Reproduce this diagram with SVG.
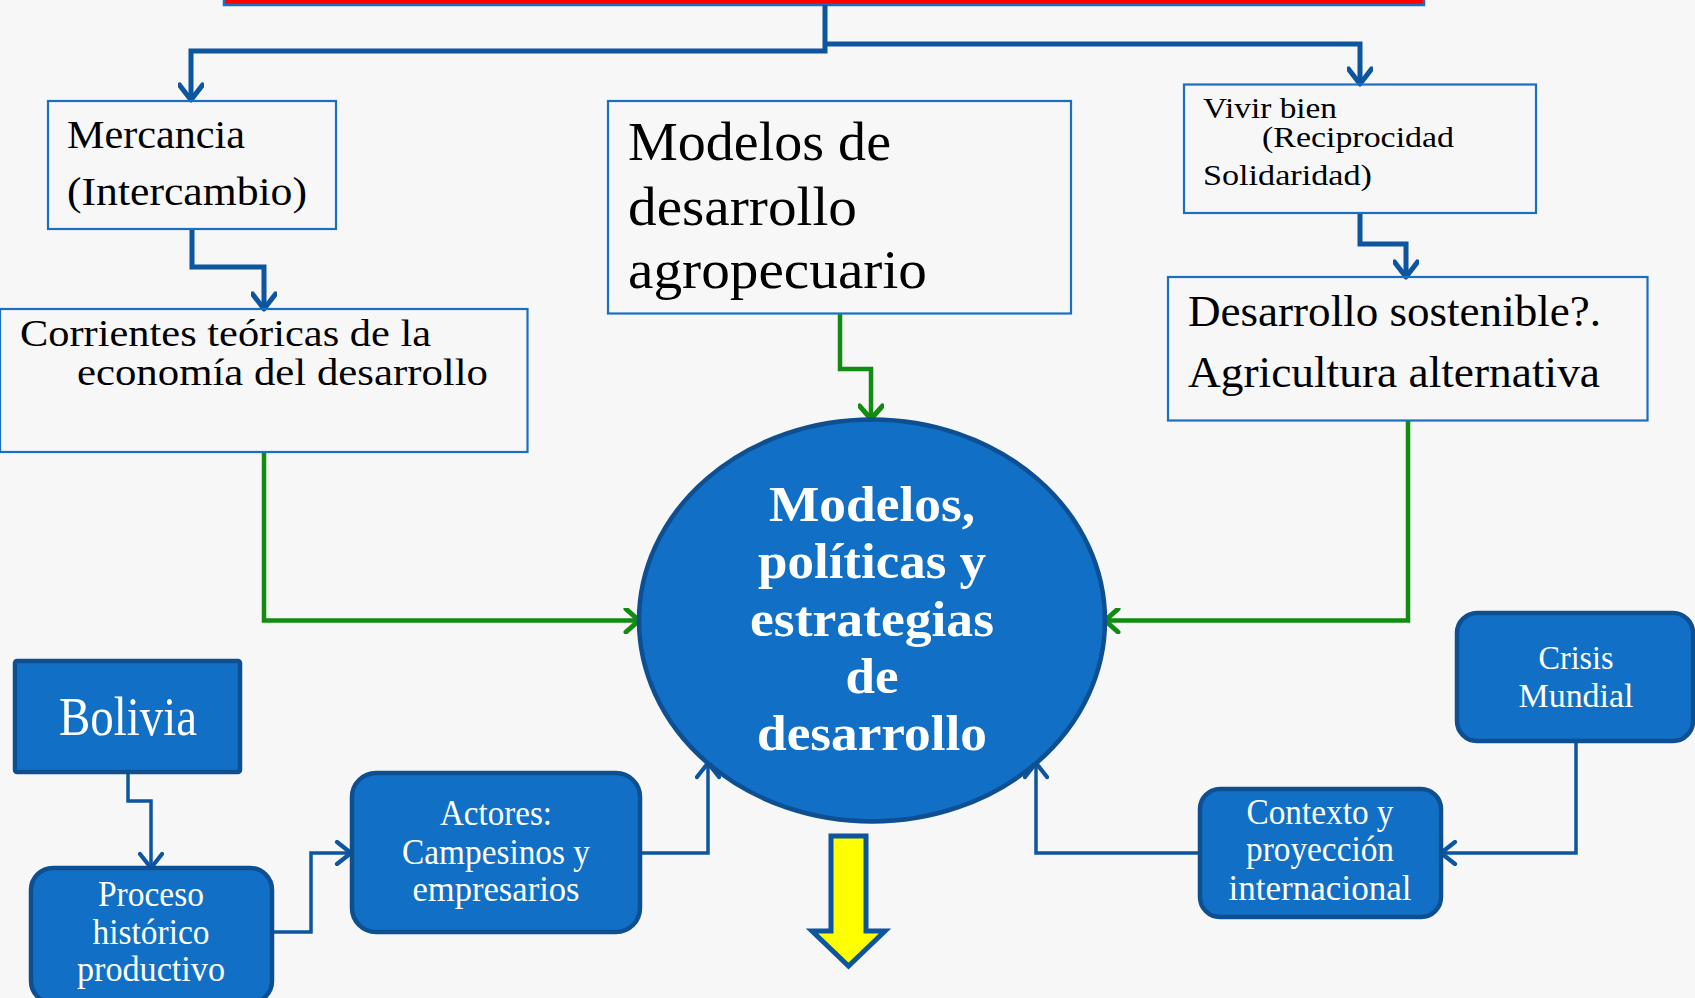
<svg xmlns="http://www.w3.org/2000/svg" width="1695" height="998" viewBox="0 0 1695 998">
<defs>
<style>
.bg{fill:#F7F7F7}
.wbox{fill:none;stroke:#1A6FC4;stroke-width:2.2}
.bbox{fill:#1170C6;stroke:#0D4F91;stroke-width:4.5}
.blk{font-family:"Liberation Serif",serif;fill:#000}
.wht{font-family:"Liberation Serif",serif;fill:#fff;text-anchor:middle}
.bold{font-weight:bold}
.cb{fill:none;stroke:#0D559E;stroke-width:5;stroke-linejoin:miter}
.cbt{fill:none;stroke:#0D559E;stroke-width:3.5;stroke-linejoin:miter}
.cg{fill:none;stroke:#118C11;stroke-width:4.5;stroke-linejoin:miter}
</style>
<marker id="mb" viewBox="0 0 26 26" markerWidth="26" markerHeight="26" refX="23" refY="13" orient="auto" markerUnits="userSpaceOnUse">
<path d="M8,1.5 L23,13 L8,24.5" fill="none" stroke="#0D559E" stroke-width="5" stroke-linecap="round" stroke-linejoin="round"/>
</marker>
<marker id="mbt" viewBox="0 0 26 26" markerWidth="26" markerHeight="26" refX="23" refY="13" orient="auto" markerUnits="userSpaceOnUse">
<path d="M9,2 L23,13 L9,24" fill="none" stroke="#0D559E" stroke-width="4.2" stroke-linecap="round" stroke-linejoin="round"/>
</marker>
<marker id="mg" viewBox="0 0 26 26" markerWidth="26" markerHeight="26" refX="23" refY="13" orient="auto" markerUnits="userSpaceOnUse">
<path d="M10,1.5 L23,13 L10,24.5" fill="none" stroke="#118C11" stroke-width="5" stroke-linecap="round" stroke-linejoin="round"/>
</marker>
</defs>
<rect class="bg" x="0" y="0" width="1695" height="998"/>

<g id="topbar">
<rect x="224" y="-10" width="1200" height="15" fill="#FF0000" stroke="#1A6FC4" stroke-width="2.5"/>
</g>

<g id="connectors">
<path class="cb" d="M825,5 V51 H191 V100" marker-end="url(#mb)"/>
<path class="cb" d="M825,44 H1360 V84" marker-end="url(#mb)"/>
<path class="cb" d="M192,229 V267 H264 V309" marker-end="url(#mb)"/>
<path class="cb" d="M1360,213 V244 H1406 V277" marker-end="url(#mb)"/>
<path class="cg" d="M840,313 V369 H871 V419" marker-end="url(#mg)"/>
<path class="cg" d="M264,452 V620.5 H639" marker-end="url(#mg)"/>
<path class="cg" d="M1408,420 V620.5 H1105" marker-end="url(#mg)"/>
<path class="cbt" d="M128,772 V801 H151 V868" marker-end="url(#mbt)"/>
<path class="cbt" d="M272,932 H311 V853 H351" marker-end="url(#mbt)"/>
<path class="cbt" d="M640,853 H708 V763" marker-end="url(#mbt)"/>
<path class="cbt" d="M1200,853 H1036 V763" marker-end="url(#mbt)"/>
<path class="cbt" d="M1576,741 V853 H1441" marker-end="url(#mbt)"/>
</g>

<g id="mercancia">
<rect class="wbox" x="48" y="101" width="288" height="128"/>
<text class="blk" x="67" y="148" font-size="40" textLength="178" lengthAdjust="spacingAndGlyphs">Mercancia</text>
<text class="blk" x="67" y="205" font-size="40" textLength="240" lengthAdjust="spacingAndGlyphs">(Intercambio)</text>
</g>

<g id="corrientes">
<rect class="wbox" x="0" y="309" width="527.5" height="143"/>
<text class="blk" x="20" y="346" font-size="38" textLength="411" lengthAdjust="spacingAndGlyphs">Corrientes teóricas de la</text>
<text class="blk" x="77" y="385" font-size="38" textLength="411" lengthAdjust="spacingAndGlyphs">economía del desarrollo</text>
</g>

<g id="modelos-agro">
<rect class="wbox" x="608" y="101" width="463" height="212.5"/>
<text class="blk" x="628" y="160" font-size="54" textLength="263" lengthAdjust="spacingAndGlyphs">Modelos de</text>
<text class="blk" x="628" y="225" font-size="54" textLength="229" lengthAdjust="spacingAndGlyphs">desarrollo</text>
<text class="blk" x="628" y="288" font-size="54" textLength="299" lengthAdjust="spacingAndGlyphs">agropecuario</text>
</g>

<g id="vivir-bien">
<rect class="wbox" x="1184" y="84.5" width="352" height="128.5"/>
<text class="blk" x="1203" y="118" font-size="30" textLength="134" lengthAdjust="spacingAndGlyphs">Vivir bien</text>
<text class="blk" x="1262" y="147" font-size="30" textLength="192" lengthAdjust="spacingAndGlyphs">(Reciprocidad</text>
<text class="blk" x="1203" y="185" font-size="30" textLength="169" lengthAdjust="spacingAndGlyphs">Solidaridad)</text>
</g>

<g id="desarrollo-sostenible">
<rect class="wbox" x="1168" y="277" width="479.5" height="143.5"/>
<text class="blk" x="1188" y="326" font-size="44" textLength="413" lengthAdjust="spacingAndGlyphs">Desarrollo sostenible?.</text>
<text class="blk" x="1188" y="387" font-size="44" textLength="412" lengthAdjust="spacingAndGlyphs">Agricultura alternativa</text>
</g>

<g id="modelos-politicas">
<ellipse cx="872" cy="620.5" rx="233" ry="201" fill="#1170C6" stroke="#0D4F91" stroke-width="4.5"/>
<text class="wht bold" x="872" y="521" font-size="50" textLength="206" lengthAdjust="spacingAndGlyphs">Modelos,</text>
<text class="wht bold" x="872" y="578" font-size="50" textLength="228" lengthAdjust="spacingAndGlyphs">políticas y</text>
<text class="wht bold" x="872" y="636" font-size="50" textLength="244" lengthAdjust="spacingAndGlyphs">estrategias</text>
<text class="wht bold" x="872" y="693" font-size="50" textLength="53" lengthAdjust="spacingAndGlyphs">de</text>
<text class="wht bold" x="872" y="750" font-size="50" textLength="230" lengthAdjust="spacingAndGlyphs">desarrollo</text>
</g>

<g id="bolivia">
<rect class="bbox" x="15" y="661" width="225" height="111" rx="2"/>
<text class="wht" x="128" y="735" font-size="55" textLength="138" lengthAdjust="spacingAndGlyphs">Bolivia</text>
</g>

<g id="proceso">
<rect class="bbox" x="31" y="868" width="241" height="135" rx="22"/>
<text class="wht" x="151" y="906" font-size="36" textLength="106" lengthAdjust="spacingAndGlyphs">Proceso</text>
<text class="wht" x="151" y="944" font-size="36" textLength="117" lengthAdjust="spacingAndGlyphs">histórico</text>
<text class="wht" x="151" y="981" font-size="36" textLength="148" lengthAdjust="spacingAndGlyphs">productivo</text>
</g>

<g id="actores">
<rect class="bbox" x="352" y="773" width="288" height="159" rx="24"/>
<text class="wht" x="496" y="825" font-size="35" textLength="112" lengthAdjust="spacingAndGlyphs">Actores:</text>
<text class="wht" x="496" y="864" font-size="35" textLength="188" lengthAdjust="spacingAndGlyphs">Campesinos y</text>
<text class="wht" x="496" y="901" font-size="35" textLength="167" lengthAdjust="spacingAndGlyphs">empresarios</text>
</g>

<g id="crisis">
<rect class="bbox" x="1457" y="613" width="236" height="128" rx="20"/>
<text class="wht" x="1576" y="669" font-size="34" textLength="75" lengthAdjust="spacingAndGlyphs">Crisis</text>
<text class="wht" x="1576" y="707" font-size="34" textLength="115" lengthAdjust="spacingAndGlyphs">Mundial</text>
</g>

<g id="contexto">
<rect class="bbox" x="1200" y="789" width="241" height="128" rx="20"/>
<text class="wht" x="1320" y="824" font-size="35" textLength="147" lengthAdjust="spacingAndGlyphs">Contexto y</text>
<text class="wht" x="1320" y="861" font-size="35" textLength="148" lengthAdjust="spacingAndGlyphs">proyección</text>
<text class="wht" x="1320" y="900" font-size="35" textLength="183" lengthAdjust="spacingAndGlyphs">internacional</text>
</g>

<g id="yellow-arrow">
<path d="M831,836 H866 V931 H885 L848.5,966 L812,931 H831 Z" fill="#FFFF00" stroke="#0D559E" stroke-width="5" stroke-linejoin="miter"/>
</g>
</svg>
